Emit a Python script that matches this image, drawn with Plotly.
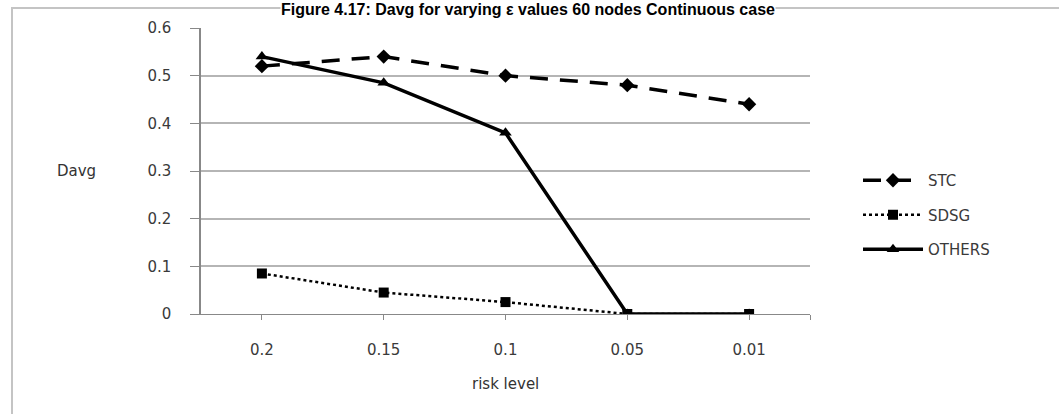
import plotly.graph_objects as go

# Data: average distortion (Davg) against risk level for each method
risk_levels = ["0.2", "0.15", "0.1", "0.05", "0.01"]
stc = [0.52, 0.54, 0.50, 0.48, 0.44]
sdsg = [0.085, 0.045, 0.025, 0.0, 0.0]
others = [0.54, 0.485, 0.38, 0.0, 0.0]
y_ticks = [0, 0.1, 0.2, 0.3, 0.4, 0.5, 0.6]

x_idx = list(range(len(risk_levels)))

W, H = 1059, 414
L, R, T, B = 201, 249, 28, 100
pw, ph = W - L - R, H - T - B


def px_x(p):
    return (p - L) / pw


def px_y(p):
    return (H - B - p) / ph


TEXT_FAMILY = "DejaVu Sans, Verdana, sans-serif"

fig = go.Figure()

fig.add_trace(go.Scatter(
    x=x_idx, y=stc, name="STC", mode="lines+markers",
    line=dict(color="black", width=3.5, dash="18px,12px"),
    marker=dict(symbol="diamond", size=11, color="black"),
    legendgroup="a",
))
fig.add_trace(go.Scatter(
    x=x_idx, y=sdsg, name="SDSG", mode="lines+markers",
    line=dict(color="black", width=2.5, dash="dot"),
    marker=dict(symbol="square", size=10, color="black"),
    legendgroup="b",
))
fig.add_trace(go.Scatter(
    x=x_idx, y=others, name="OTHERS", mode="lines+markers",
    line=dict(color="black", width=3.5),
    marker=dict(symbol="triangle-up", size=11, color="black"),
    legendgroup="c",
))

tick_font = dict(family=TEXT_FAMILY, size=15, color="#3a3a3a")

fig.update_layout(
    width=W, height=H,
    margin=dict(l=L, r=R, t=T, b=B, pad=0),
    paper_bgcolor="white",
    plot_bgcolor="white",
    showlegend=True,
    legend=dict(
        x=px_x(858), y=px_y(164), xanchor="left", yanchor="top",
        font=dict(family=TEXT_FAMILY, size=15, color="#3a3a3a"),
        tracegroupgap=12, traceorder="grouped",
        bgcolor="rgba(0,0,0,0)",
        itemwidth=60,
    ),
    xaxis=dict(
        range=[-0.5, 4.5],
        tickmode="array",
        tickvals=x_idx + [4.5],
        ticktext=risk_levels + [""],
        ticks="outside", ticklen=5, tickcolor="#888888",
        showline=True, linecolor="#888888", linewidth=1,
        showgrid=False, zeroline=False,
        tickfont=tick_font,
        ticklabelstandoff=17,
    ),
    yaxis=dict(
        range=[0, 0.6],
        tickmode="array",
        tickvals=y_ticks,
        ticktext=["0" if v == 0 else f"{v:.1f}" for v in y_ticks],
        ticks="outside", ticklen=9, tickcolor="#888888",
        showline=True, linecolor="#888888", linewidth=1.5,
        showgrid=True, gridcolor="#b5b5b5", gridwidth=1.5,
        zeroline=False,
        tickfont=tick_font,
        ticklabelstandoff=16,
    ),
    annotations=[
        dict(
            text="<b>Figure 4.17: Davg for varying \u03b5 values 60 nodes Continuous case</b>",
            xref="paper", yref="paper", x=px_x(528), y=px_y(0),
            xanchor="center", yanchor="top", showarrow=False,
            bgcolor="white", borderpad=0,
            font=dict(family="Liberation Sans, Arial, sans-serif", size=16, color="black"),
        ),
        dict(
            text="Davg", xref="paper", yref="y", x=px_x(76), y=0.3,
            xanchor="center", yanchor="middle", showarrow=False,
            font=dict(family=TEXT_FAMILY, size=15, color="#333333"),
        ),
        dict(
            text="risk level", xref="paper", yref="paper", x=0.5, y=px_y(384),
            xanchor="center", yanchor="middle", showarrow=False,
            font=dict(family=TEXT_FAMILY, size=15, color="#333333"),
        ),
    ],
    shapes=[
        dict(
            type="rect", xref="paper", yref="paper",
            x0=px_x(12), x1=px_x(1070), y0=px_y(8), y1=px_y(430),
            line=dict(color="#c4c4c4", width=2), fillcolor="rgba(0,0,0,0)",
            layer="below",
        ),
    ],
)

fig.write_html("out.html")
